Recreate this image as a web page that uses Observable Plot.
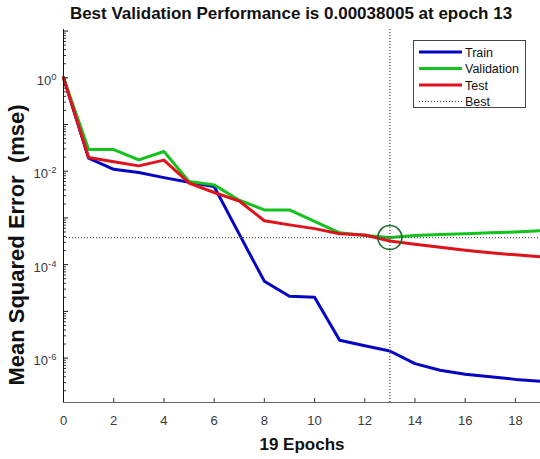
<!DOCTYPE html>
<html>
<head>
<meta charset="utf-8">
<script src="https://cdn.jsdelivr.net/npm/d3@7"></script>
<script src="https://cdn.jsdelivr.net/npm/@observablehq/plot@0.6"></script>
<style>
  body { margin: 0; background: #fff; }
  #wrap { position: relative; width: 540px; height: 459px; overflow: hidden; background: #fff;
          font-family: "Liberation Sans", Arial, sans-serif; }
  #title { position: relative; height: 28px; }
  #title span { position: absolute; left: 291px; top: 0; line-height: 28px; transform: translateX(-50%);
                white-space: nowrap; font-weight: bold; font-size: 17px; color: #111; }
  #ylabel { position: absolute; left: 17px; top: 245px; transform: translate(-50%, -50%) rotate(-90deg);
            white-space: pre; font-weight: bold; font-size: 22px; color: #111; }
  #legend { position: absolute; left: 413px; top: 40px; }
  g[aria-label="x-axis label"] text { font-weight: bold; font-size: 17px; fill: #111; }
</style>
</head>
<body>
<div id="wrap">
  <div id="title"><span>Best Validation Performance is 0.00038005 at epoch 13</span></div>
  <div id="chart"></div>
  <div id="ylabel">Mean Squared Error  (mse)</div>
  <svg id="legend" width="114" height="68"></svg>
</div>
<script>
// ---- data ----
const epochs = [0,1,2,3,4,5,6,7,8,9,10,11,12,13,14,15,16,17,18,19];
const train = [1.0, 0.019, 0.011, 0.0094, 0.0073, 0.0058, 0.0047, 4.5e-4, 4.4e-5, 2.1e-5, 2.0e-5,
               2.4e-6, 1.83e-6, 1.42e-6, 7.6e-7, 5.5e-7, 4.5e-7, 4.0e-7, 3.5e-7, 3.2e-7];
const validation = [1.0, 0.029, 0.029, 0.0175, 0.0264, 0.0060, 0.0051, 0.0024, 0.00148, 0.00148, 8.4e-4,
                    4.8e-4, 4.2e-4, 3.8005e-4, 4.2e-4, 4.4e-4, 4.6e-4, 4.8e-4, 5.0e-4, 5.3e-4];
const test = [1.0, 0.0196, 0.016, 0.013, 0.0173, 0.0056, 0.0035, 0.0023, 8.7e-4, 7.1e-4, 5.9e-4,
              4.6e-4, 4.3e-4, 3.2e-4, 2.72e-4, 2.35e-4, 2.03e-4, 1.80e-4, 1.62e-4, 1.47e-4];
const seriesNames = ["Train", "Validation", "Test"];
const seriesColors = ["#0505c4", "#14c21e", "#e0121c"];
const bestEpoch = 13;
const bestPerf = 0.00038005;
const xTicks = [0, 2, 4, 6, 8, 10, 12, 14, 16, 18];
const yTicks = [1e0, 1e-2, 1e-4, 1e-6];
const yTickExponents = ["0", "-2", "-4", "-6"];
const xDomain = [0, 19];
const yDomain = [1.12e-7, 10.8];

// ---- build tidy rows ----
const seriesValues = [train, validation, test];
const rows = [];
seriesNames.forEach((name, i) => epochs.forEach((e, j) => rows.push({series: name, epoch: e, mse: seriesValues[i][j]})));

// decade + minor ticks of the log axis
const decades = d3.range(-7, 2).map(k => Math.pow(10, k)).filter(v => v >= yDomain[0] && v <= yDomain[1]);
const minors = [];
d3.range(-7, 1).forEach(k => d3.range(2, 10).forEach(m => {
  const v = m * Math.pow(10, k);
  if (v >= yDomain[0] && v <= yDomain[1]) minors.push(v);
}));

const W = 540, H = 431, mL = 63, mR = 0, mT = 1, mB = 57;
const innerW = W - mL - mR, innerH = H - mT - mB;

const chart = Plot.plot({
  width: W, height: H,
  marginLeft: mL, marginRight: mR, marginTop: mT, marginBottom: mB,
  style: {fontFamily: "'Liberation Sans', Arial, sans-serif", fontSize: "13px", color: "#3a3a3a", background: "white"},
  x: {domain: xDomain},
  y: {type: "log", domain: yDomain},
  color: {domain: seriesNames, range: seriesColors},
  marks: [
    Plot.line(rows, {x: "epoch", y: "mse", stroke: "series", z: "series", strokeWidth: 3, strokeLinejoin: "round"}),
    Plot.ruleX([bestEpoch], {stroke: "#555", strokeWidth: 1.3, strokeDasharray: "1,2"}),
    Plot.ruleY([bestPerf], {stroke: "#555", strokeWidth: 1.3, strokeDasharray: "1,2"}),
    Plot.dot([{epoch: bestEpoch, mse: bestPerf}], {x: "epoch", y: "mse", r: 12, stroke: "#1d6b2c", strokeWidth: 1.6, fill: "none"}),
    // inward ticks
    Plot.tickX(xTicks, {x: d => d, insetTop: innerH - 4, stroke: "#333"}),
    Plot.tickY(decades, {y: d => d, insetRight: innerW - 5, stroke: "#111"}),
    Plot.tickY(minors, {y: d => d, insetRight: innerW - 3, stroke: "#333"}),
    // axis lines
    Plot.ruleX([xDomain[0]], {stroke: "#111"}),
    Plot.ruleY([yDomain[0]], {stroke: "#666", strokeWidth: 1.2}),
    // axes labels
    Plot.axisX(xTicks, {tickSize: 0, tickPadding: 13, tickFormat: d => String(d),
      label: "19 Epochs", labelAnchor: "center", labelOffset: 47, labelArrow: "none"}),
    Plot.axisY(yTicks, {tickSize: 0, tickPadding: 7, dy: 3,
      tickFormat: d => "10^" + yTickExponents[yTicks.indexOf(d)], label: null})
  ]
});
document.getElementById("chart").appendChild(chart);

// render the exponent of the y tick labels as superscript
d3.select(chart).selectAll('g[aria-label="y-axis tick label"] text').each(function () {
  const t = d3.select(this);
  const s = t.text();
  if (s.startsWith("10^")) {
    const e = s.slice(3);
    t.text(null);
    t.append("tspan").text("10");
    t.append("tspan").attr("dy", "-0.55em").attr("font-size", "9.5px").text(e);
  }
});

// legend
const legendItems = seriesNames.map((n, i) => ({name: n, color: seriesColors[i], dash: null, width: 3}))
  .concat([{name: "Best", color: "#333", dash: "1,2", width: 1}]);
const lg = d3.select("#legend");
lg.append("rect").attr("x", 0.5).attr("y", 0.5).attr("width", 112).attr("height", 67)
  .attr("fill", "#fff").attr("stroke", "#444");
legendItems.forEach((it, i) => {
  const y = 12 + i * 16.5;
  lg.append("line").attr("x1", 6).attr("x2", 49).attr("y1", y).attr("y2", y)
    .attr("stroke", it.color).attr("stroke-width", it.width).attr("stroke-dasharray", it.dash);
  lg.append("text").attr("x", 52).attr("y", y).attr("dy", "0.36em")
    .attr("font-family", "'Liberation Sans', Arial, sans-serif").attr("font-size", "12.5px")
    .attr("fill", "#111").text(it.name);
});
</script>
</body>
</html>
